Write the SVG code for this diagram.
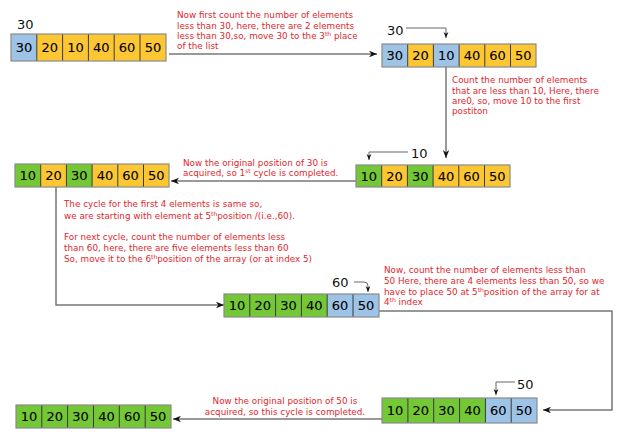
<svg xmlns="http://www.w3.org/2000/svg" width="628" height="448" viewBox="0 0 628 448">
<defs>
<style>
.num{font-family:"DejaVu Sans","Liberation Sans",sans-serif;font-size:13px;fill:#000;stroke:#000;stroke-width:0.1;text-anchor:middle}
.lbl{font-family:"DejaVu Sans","Liberation Sans",sans-serif;font-size:13px;fill:#111}
.note{font-family:"DejaVu Sans","Liberation Sans",sans-serif;font-size:8.8px;fill:#e3262c}
.b{fill:#9dc3e6}
.y{fill:#fdc734}
.g{fill:#74c835}
.div{stroke:#3a3a3a;stroke-width:1}
.out{fill:none;stroke:#8a8a8a;stroke-width:1.2}
.conn{fill:none;stroke:#777;stroke-width:1.5}
.thin{fill:none;stroke:#666;stroke-width:1}
</style>
<marker id="ah" viewBox="0 0 10 10" refX="10" refY="5" markerWidth="8" markerHeight="8" markerUnits="userSpaceOnUse" orient="auto">
<path d="M0,1 L10,5 L0,9 L3,5 z" fill="#111"/>
</marker>
<marker id="ahs" viewBox="0 0 10 10" refX="10" refY="5" markerWidth="6" markerHeight="6" markerUnits="userSpaceOnUse" orient="auto">
<path d="M0,1 L10,5 L0,9 L3,5 z" fill="#111"/>
</marker>
</defs>
<rect width="628" height="448" fill="#fff"/>

<g id="connectors">
<path class="conn" d="M169,54 H377" marker-end="url(#ah)"/>
<path class="conn" d="M446,67 V158" marker-end="url(#ah)"/>
<path class="conn" d="M356,181 H171" marker-end="url(#ah)"/>
<path class="conn" d="M56,187 V305 H224" marker-end="url(#ah)"/>
<path class="conn" d="M379,311 H612 V410 H543" marker-end="url(#ah)"/>
<path class="conn" d="M382,419 H173" marker-end="url(#ah)"/>
<path class="thin" d="M406,28 H446 V38" marker-end="url(#ahs)"/>
<path class="thin" d="M408,152 H369 V160" marker-end="url(#ahs)"/>
<path class="thin" d="M354,282 H364 Q368,282 368,286 V292" marker-end="url(#ahs)"/>
<path class="thin" d="M515,382 H496 V395" marker-end="url(#ahs)"/>
</g>

<g id="array1">
<rect class="b" x="11" y="34" width="25.8" height="27"/>
<rect class="y" x="36.8" y="34" width="129.2" height="27"/>
<path class="div" d="M36.8,34V61M62.6,34V61M88.4,34V61M114.2,34V61M140,34V61"/>
<rect class="out" x="11" y="34" width="155" height="27"/>
<text class="num" y="52"><tspan x="23.9">30</tspan><tspan x="49.7">20</tspan><tspan x="75.5">10</tspan><tspan x="101.3">40</tspan><tspan x="127.1">60</tspan><tspan x="152.9">50</tspan></text>
<text class="lbl" x="17" y="29">30</text>
</g>

<g id="array2">
<rect class="b" x="382" y="44" width="25.7" height="23"/>
<rect class="y" x="407.7" y="44" width="25.7" height="23"/>
<rect class="b" x="433.4" y="44" width="25.7" height="23"/>
<rect class="y" x="459.1" y="44" width="76.9" height="23"/>
<path class="div" d="M407.7,44V67M433.4,44V67M459.1,44V67M484.8,44V67M510.5,44V67"/>
<rect class="out" x="382" y="44" width="154" height="23"/>
<text class="num" y="60"><tspan x="394.8">30</tspan><tspan x="420.5">20</tspan><tspan x="446.2">10</tspan><tspan x="471.9">40</tspan><tspan x="497.6">60</tspan><tspan x="523.3">50</tspan></text>
<text class="lbl" x="387" y="35">30</text>
</g>

<g id="array3">
<rect class="g" x="356" y="165" width="25.7" height="22"/>
<rect class="y" x="381.7" y="165" width="25.7" height="22"/>
<rect class="g" x="407.4" y="165" width="25.7" height="22"/>
<rect class="y" x="433.1" y="165" width="76.9" height="22"/>
<path class="div" d="M381.7,165V187M407.4,165V187M433.1,165V187M458.8,165V187M484.5,165V187"/>
<rect class="out" x="356" y="165" width="154" height="22"/>
<text class="num" y="180.5"><tspan x="368.8">10</tspan><tspan x="394.5">20</tspan><tspan x="420.2">30</tspan><tspan x="445.9">40</tspan><tspan x="471.6">60</tspan><tspan x="497.3">50</tspan></text>
<text class="lbl" x="411" y="158">10</text>
</g>

<g id="array4">
<rect class="g" x="15" y="164" width="25.7" height="23"/>
<rect class="y" x="40.7" y="164" width="25.7" height="23"/>
<rect class="g" x="66.4" y="164" width="25.7" height="23"/>
<rect class="y" x="92.1" y="164" width="76.9" height="23"/>
<path class="div" d="M40.7,164V187M66.4,164V187M92.1,164V187M117.8,164V187M143.5,164V187"/>
<rect class="out" x="15" y="164" width="154" height="23"/>
<text class="num" y="180"><tspan x="27.8">10</tspan><tspan x="53.5">20</tspan><tspan x="79.2">30</tspan><tspan x="104.9">40</tspan><tspan x="130.6">60</tspan><tspan x="156.3">50</tspan></text>
</g>

<g id="array5">
<rect class="g" x="224" y="294" width="103.2" height="23"/>
<rect class="b" x="327.2" y="294" width="51.8" height="23"/>
<path class="div" d="M249.8,294V317M275.6,294V317M301.4,294V317M327.2,294V317M353,294V317"/>
<rect class="out" x="224" y="294" width="155" height="23"/>
<text class="num" y="310"><tspan x="236.9">10</tspan><tspan x="262.7">20</tspan><tspan x="288.5">30</tspan><tspan x="314.3">40</tspan><tspan x="340.1">60</tspan><tspan x="365.9">50</tspan></text>
<text class="lbl" x="332" y="287">60</text>
</g>

<g id="array6">
<rect class="g" x="382" y="398" width="103.4" height="25"/>
<rect class="b" x="485.4" y="398" width="51.6" height="25"/>
<path class="div" d="M407.9,398V423M433.7,398V423M459.6,398V423M485.4,398V423M511.2,398V423"/>
<rect class="out" x="382" y="398" width="155" height="25"/>
<text class="num" y="415"><tspan x="394.9">10</tspan><tspan x="420.8">20</tspan><tspan x="446.6">30</tspan><tspan x="472.5">40</tspan><tspan x="498.3">60</tspan><tspan x="524.1">50</tspan></text>
<text class="lbl" x="517" y="389">50</text>
</g>

<g id="array7">
<rect class="g" x="16" y="405" width="155" height="23"/>
<path class="div" d="M41.8,405V428M67.6,405V428M93.5,405V428M119.3,405V428M145.2,405V428"/>
<rect class="out" x="16" y="405" width="155" height="23"/>
<text class="num" y="421"><tspan x="28.9">10</tspan><tspan x="54.7">20</tspan><tspan x="80.6">30</tspan><tspan x="106.4">40</tspan><tspan x="132.3">60</tspan><tspan x="158.1">50</tspan></text>
</g>

<g id="notes">
<text class="note" x="177" y="18">Now first count the number of elements</text>
<text class="note" x="177" y="28.5">less than 30, here, there are 2 elements</text>
<text class="note" x="177" y="39">less than 30,so, move 30 to the 3<tspan font-size="6" dy="-3">th</tspan><tspan dy="3"> place</tspan></text>
<text class="note" x="177" y="49">of the list</text>

<text class="note" x="452" y="83">Count the number of elements</text>
<text class="note" x="452" y="93.5">that are less than 10, Here, there</text>
<text class="note" x="452" y="103.5">are0, so, move 10 to the first</text>
<text class="note" x="452" y="113.5">postiton</text>

<text class="note" x="183" y="166">Now the original position of 30 is</text>
<text class="note" x="183" y="176">acquired, so 1<tspan font-size="6" dy="-3">st</tspan><tspan dy="3"> cycle is completed.</tspan></text>

<text class="note" x="64" y="207">The cycle for the first 4 elements is same so,</text>
<text class="note" x="64" y="219">we are starting with element at 5<tspan font-size="6" dy="-3">th</tspan><tspan dy="3">position /(i.e.,60).</tspan></text>
<text class="note" x="64" y="240">For next cycle, count the number of elements less</text>
<text class="note" x="64" y="250.5">than 60, here, there are five elements less than 60</text>
<text class="note" x="64" y="261.5">So, move it to the 6<tspan font-size="6" dy="-3">th</tspan><tspan dy="3">position of the array (or at index 5)</tspan></text>

<text class="note" x="384" y="273">Now, count the number of elements less than</text>
<text class="note" x="384" y="283.5">50 Here, there are 4 elements less than 50, so we</text>
<text class="note" x="384" y="294.5">have to place 50 at 5<tspan font-size="6" dy="-3">th</tspan><tspan dy="3">position of the array for at</tspan></text>
<text class="note" x="384" y="305">4<tspan font-size="6" dy="-3">th</tspan><tspan dy="3"> index</tspan></text>

<text class="note" x="285" y="404" text-anchor="middle">Now the original position of 50 is</text>
<text class="note" x="285" y="415" text-anchor="middle">acquired, so this cycle is completed.</text>
</g>
</svg>
